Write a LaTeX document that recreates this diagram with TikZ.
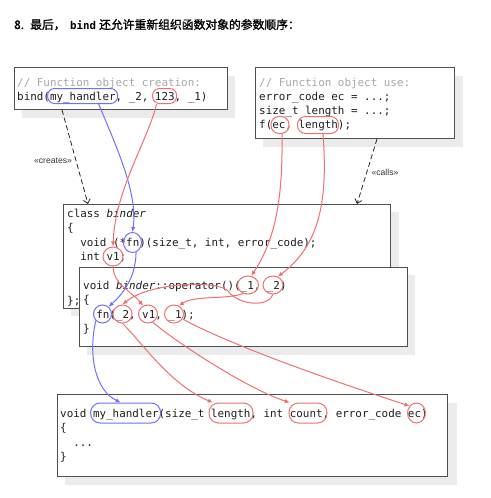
\documentclass[tikz,border=0pt]{standalone}
\usepackage{fontspec}
\setmonofont{DejaVu Sans Mono}
\newfontfamily\cjkb[FakeBold=1.3]{Noto Sans CJK SC}
\newfontfamily\labfont{Liberation Sans}
\usetikzlibrary{arrows.meta,shapes.geometric}
\definecolor{hlred}{HTML}{EE7070}
\definecolor{hlblue}{HTML}{7070FF}
\definecolor{shade}{HTML}{EBEBEB}
\definecolor{boxline}{HTML}{505050}
\definecolor{cmt}{HTML}{A8A8A8}
\definecolor{codec}{HTML}{1E1E1E}
\begin{document}
\begin{tikzpicture}[x=1pt,y=-1pt,
  boxc/.style={draw=boxline,line width=1pt,fill=white,anchor=north west,inner sep=0pt},
  shadowc/.style={fill=shade},
  codetxt/.style={anchor=base west,inner sep=0pt,font=\ttfamily\fontsize{10.9}{13}\selectfont,text=codec},
  cmttxt/.style={codetxt,text=cmt},
  pillr/.style={draw=hlred,line width=1pt,rectangle,inner sep=0pt},
  pillb/.style={draw=hlblue,line width=1pt,rectangle,inner sep=0pt},
  circr/.style={draw=hlred,line width=1pt,ellipse,inner sep=0pt},
  circb/.style={draw=hlblue,line width=1pt,ellipse,inner sep=0pt},
  rl/.style={draw=hlred,line width=1pt,-{Latex[length=5pt,width=4.5pt]}},
  bl/.style={draw=hlblue,line width=1pt,-{Latex[length=5pt,width=4.5pt]}},
  dep/.style={draw=black!85,line width=0.8pt,dash pattern=on 5pt off 3pt,-{Straight Barb[length=4pt,width=7pt]}},
  lab/.style={font=\labfont\fontsize{8.6}{10}\selectfont,text=black!80,inner sep=0pt}
]
\useasboundingbox[fill=white] (0,0) rectangle (490,498);

% title
\node[anchor=base west,inner sep=0pt,font=\cjkb\fontsize{11.8}{13}\selectfont] (t8) at (14,29) {8.};
\node[anchor=base west,inner sep=0pt,font=\cjkb\fontsize{11.8}{13}\selectfont] (tz) at (30,29) {最后，};
\node[anchor=base west,inner sep=0pt,font=\ttfamily\bfseries\fontsize{10.8}{13}\selectfont] (tb) at (70,29) {bind};
\node[anchor=base west,inner sep=0pt,font=\cjkb\fontsize{11.8}{13}\selectfont] (tr) at (99,29) {还允许重新组织函数对象的参数顺序：};

% box 1
\fill[shadowc] (22,76) rectangle (235,118);
\node[boxc,minimum width=213pt,minimum height=42pt] (b1) at (14,67) {};
\node[cmttxt] (b1l1) at (17,86) {// Function object creation:};
\node[codetxt] (b1l2) at (17,100) {bind(my\_handler, \_2, 123, \_1)};

% box 2
\fill[shadowc] (263,76) rectangle (463,147);
\node[boxc,minimum width=199pt,minimum height=71pt] (b2) at (255,67) {};
\node[cmttxt] (b2l1) at (259,86) {// Function object use:};
\node[codetxt] (b2l2) at (259,100) {error\_code ec = ...;};
\node[codetxt] (b2l3) at (259,114) {size\_t length = ...;};
\node[codetxt] (b2l4) at (259,128) {f(ec, length);};

% box 3
\fill[shadowc] (71,212) rectangle (399,316);
\node[boxc,minimum width=327pt,minimum height=104pt] (b3) at (63,204) {};
\node[codetxt] (b3l1) at (67,217) {class \textit{binder}};
\node[codetxt] (b3l2) at (67,231.5) {\{};
\node[codetxt] (b3l3) at (80.1,246) {void (*fn)(size\_t, int, error\_code);};
\node[codetxt] (b3l4) at (80.1,260.5) {int v1;};
\node[codetxt] (b3l5) at (67,304) {\};};

% box 4
\fill[shadowc] (87,275) rectangle (415,355);
\node[boxc,minimum width=328pt,minimum height=79pt] (b4) at (79,267) {};
\node[codetxt] (b4l1) at (83,289) {void \textit{binder}::operator()(\_1, \_2)};
\node[codetxt] (b4l2) at (83,303.5) {\{};
\node[codetxt] (b4l3) at (96.1,318) {fn(\_2, v1, \_1);};
\node[codetxt] (b4l4) at (83,332.5) {\}};

% box 5
\fill[shadowc] (65,403) rectangle (457,485);
\node[boxc,minimum width=390pt,minimum height=82pt] (b5) at (57,394) {};
\node[codetxt] (b5l1) at (60,417) {void my\_handler(size\_t length, int count, error\_code ec)};
\node[codetxt] (b5l2) at (60,431.5) {\{};
\node[codetxt] (b5l3) at (73.1,446) {...};
\node[codetxt] (b5l4) at (60,460.5) {\}};

% highlights
\node[pillb,minimum width=70pt,minimum height=15pt,rounded corners=7pt] (m1) at (82.6,96) {};
\node[pillr,minimum width=24pt,minimum height=15pt,rounded corners=7pt] (h123) at (164.6,96) {};
\node[pillr,minimum width=18pt,minimum height=17pt,rounded corners=8pt] (hec) at (280,125) {};
\node[pillr,minimum width=41pt,minimum height=17pt,rounded corners=8pt] (hlen) at (318,125) {};
\node[circb,minimum width=18pt,minimum height=20pt] (hfn) at (132.5,242.5) {};
\node[circr,minimum width=20pt,minimum height=19pt] (hv1) at (113,256.5) {};
\node[circr,minimum width=21pt,minimum height=18pt] (ho1) at (248,285) {};
\node[circr,minimum width=20pt,minimum height=18pt] (ho2) at (273,285) {};
\node[circb,minimum width=18pt,minimum height=18pt] (hfnc) at (102.5,314) {};
\node[circr,minimum width=19pt,minimum height=18pt] (hc2) at (122.5,314) {};
\node[circr,minimum width=19pt,minimum height=18pt] (hv1c) at (148,314) {};
\node[circr,minimum width=19pt,minimum height=18pt] (hc1) at (174,314) {};
\node[pillb,minimum width=70pt,minimum height=20pt,rounded corners=9.5pt] (M5) at (125.6,413) {};
\node[pillr,minimum width=44pt,minimum height=20pt,rounded corners=9.5pt] (hL) at (231,413) {};
\node[pillr,minimum width=38pt,minimum height=20pt,rounded corners=9.5pt] (hC) at (308,413) {};
\node[circr,minimum width=18pt,minimum height=20pt] (hE) at (416.5,413) {};

% dependency arrows
\draw[dep] ([xshift=48pt]b1.south west) -- ([xshift=25pt]b3.north west);
\node[lab] (lcreates) at (53,161) {«creates»};
\draw[dep] ([xshift=122pt]b2.south west) -- ([xshift=294pt]b3.north west);
\node[lab] (lcalls) at (385,172) {«calls»};

% connectors
\draw[bl] ([xshift=16pt]m1.south) .. controls (118,150) and (138,195) .. (hfn.north);
\draw[rl] ([xshift=-8pt]h123.south) .. controls (148,140) and (115,190) .. (hv1.north);
\draw[rl] ([xshift=2pt]hec.south) .. controls (283,200) and (275,240) .. (ho1.70);
\draw[rl] ([xshift=5pt]hlen.south) .. controls (328,200) and (320,245) .. (ho2.60);
\draw[bl] (hfn.-70) .. controls (136,275) and (125,292) .. (hfnc.50);
\draw[rl] (hv1.south) .. controls (114,285) and (130,290) .. (hv1c.120);
\draw[rl] (ho1.-120) .. controls (225,300) and (195,295) .. (hc1.60);
\draw[rl] (ho2.south) .. controls (268,308) and (238,305) .. (228,291) .. controls (218,280) and (150,282) .. (hc2.north);
\draw[rl] (hc2.south) .. controls (140,340) and (170,385) .. (hL.150);
\draw[rl] (hv1c.-60) .. controls (180,345) and (250,390) .. (hC.150);
\draw[rl] (hc1.-30) .. controls (230,345) and (330,380) .. (hE.135);
\draw[bl] (hfnc.-135) .. controls (88,355) and (95,390) .. ([xshift=-5pt]M5.north);
\end{tikzpicture}
\end{document}
